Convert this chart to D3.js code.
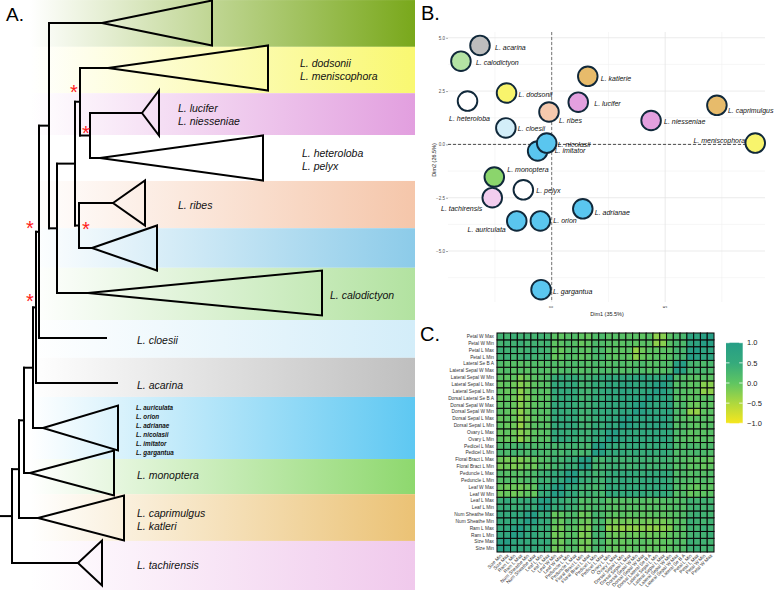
<!DOCTYPE html>
<html>
<head>
<meta charset="utf-8">
<script src="https://cdn.jsdelivr.net/npm/d3@7"></script>
<style>
  body { margin: 0; background: #fff; }
  svg { font-family: "Liberation Sans", Arial, sans-serif; display: block; }
</style>
</head>
<body>
<div id="chart"></div>
<script>
// ---------- panel A : tree ----------
const bandColors = ["#79a81b", "#f9f871", "#e29fdf", "#ffffff", "#f5c6aa", "#8ccbe9", "#b2e2a0",
                    "#d3edf9", "#bfbfbf", "#5ec8f2", "#8ed86e", "#ebc275", "#f0c9ec"];
// band edges in leaf units (leaf 0 = top clade)
const bandEdges = [-0.51, 0.53, 1.56, 2.49, 3.51, 4.56, 5.44, 6.6, 7.44, 8.31, 9.69, 10.47, 11.51, 12.6];

const treeNode   = ["root", "Q", "M", "K", "J", "N0", "N1", "top", "N2", "N3", "N4", "dodsonii", "N5",
                    "lucifer", "heteroloba", "N6", "ribes", "blue", "calodictyon", "cloesii", "acarina",
                    "blue6", "monoptera", "caprimulgus", "tachirensis"];
const treeParent = ["", "root", "Q", "M", "K", "J", "N0", "N1", "N1", "N2", "N3", "N4", "N4",
                    "N5", "N5", "N3", "N6", "N6", "N2", "N0", "J",
                    "K", "M", "Q", "root"];
// node depth (x) and collapsed clade depth (triangle base)
const treeDepth  = [12, 19, 24, 33, 36, 39, 49, 102, 57, 75, 80, 108, 90,
                    142, 100, 79, 113, 92, 88, 106, 117,
                    43, 30, 38, 78];
const cladeBase  = [null, null, null, null, null, null, null, 212, null, null, null, 268, null,
                    159, 263, null, 145, 157, 322, null, null,
                    118, 114, 124, 102];
const cladeLabels = {
  dodsonii: ["L. dodsonii", "L. meniscophora"],
  lucifer: ["L. lucifer", "L. niesseniae"],
  heteroloba: ["L. heteroloba", "L. pelyx"],
  ribes: ["L. ribes"],
  calodictyon: ["L. calodictyon"],
  cloesii: ["L. cloesii"],
  acarina: ["L. acarina"],
  blue6: ["L. auriculata", "L. orion", "L. adrianae", "L. nicolasii", "L. imitator", "L. gargantua"],
  monoptera: ["L. monoptera"],
  caprimulgus: ["L. caprimulgus", "L. katleri"],
  tachirensis: ["L. tachirensis"]
};
const labelDepth = {dodsonii: 300, lucifer: 178, heteroloba: 302, ribes: 178, calodictyon: 330,
  cloesii: 137, acarina: 137, blue6: 136, monoptera: 137, caprimulgus: 137, tachirensis: 137};
const supportNodes = ["N4", "N5", "N6", "N0", "J"];
const supportOffset = [[-6, -14], [-4, -7], [7, -1], [-9, -8], [-6, -10]];

// ---------- panel B : PCA ----------
const pcaNames = ["L. acarina", "L. calodictyon", "L. katlerie", "L. dodsonii", "L. heteroloba", "L. lucifer",
  "L. ribes", "L. caprimulgus", "L. niesseniae", "L. cloesii", "L. imitator", "L. nicolasii",
  "L. meniscophora", "L. monoptera", "L. pelyx", "L. tachirensis", "L. adrianae", "L. auriculata",
  "L. orion", "L. gargantua"];
const pcaDim1 = [-3.16, -4.0, 1.59, -1.99, -3.71, 1.17, -0.12, 7.28, 4.38, -2.02, -0.62, -0.22,
  8.97, -2.53, -1.25, -2.62, 1.37, -1.54, -0.5, -0.47];
const pcaDim2 = [4.64, 3.9, 3.19, 2.41, 2.03, 1.98, 1.52, 1.83, 1.12, 0.77, -0.31, 0.06,
  0.06, -1.53, -2.13, -2.5, -3.02, -3.59, -3.59, -6.81];
const pcaClade = ["acarina", "calodictyon", "caprimulgus", "dodsonii", "heteroloba", "lucifer",
  "ribes", "caprimulgus", "lucifer", "cloesii", "auriculata", "auriculata",
  "dodsonii", "monoptera", "heteroloba", "tachirensis", "auriculata", "auriculata",
  "auriculata", "auriculata"];
const yTicksB = [-5, -2.5, 0, 2.5, 5];
const xTicksB = [0, 5];

// ---------- panel C : correlation heatmap ----------
const traits = ["Size Min", "Size Max", "Ram L Min", "Ram L Max", "Num Sheathe Min", "Num Sheathe Max",
  "Leaf L Min", "Leaf L Max", "Leaf W Min", "Leaf W Max", "Peduncle L Min", "Peduncle L Max",
  "Floral Bract L Min", "Floral Bract L Max", "Pedicel L Min", "Pedicel L Max", "Ovary L Min", "Ovary L Max",
  "Dorsal Sepal L Min", "Dorsal Sepal L Max", "Dorsal Sepal W Min", "Dorsal Sepal W Max",
  "Dorsal Lateral Se B A", "Lateral Sepal L Min", "Lateral Sepal L Max", "Lateral Sepal W Min",
  "Lateral Sepal W Max", "Lateral Se B A", "Petal L Min", "Petal L Max", "Petal W Min", "Petal W Max"];
// lower triangle of the correlation matrix (row i: columns 0..i)
const corrLower = [
  [1],
  [0.88, 1],
  [0.6, 0.62, 1],
  [0.55, 0.58, 0.86, 1],
  [0.5, 0.52, 0.6, 0.62, 1],
  [0.55, 0.5, 0.58, 0.6, 0.88, 1],
  [0.45, 0.48, 0.4, 0.42, 0.5, 0.45, 1],
  [0.42, 0.5, 0.38, 0.45, 0.48, 0.5, 0.9, 1],
  [-0.1, -0.05, -0.12, -0.08, 0.0, -0.05, 0.45, 0.5, 1],
  [-0.05, -0.1, -0.08, -0.12, -0.05, 0.0, 0.5, 0.45, 0.88, 1],
  [0.1, 0.15, 0.05, 0.1, 0.2, 0.15, 0.4, 0.35, 0.55, 0.5, 1],
  [0.15, 0.1, 0.1, 0.05, 0.15, 0.2, 0.35, 0.4, 0.5, 0.55, 0.9, 1],
  [-0.15, -0.1, -0.2, -0.15, -0.05, -0.1, 0.15, 0.1, 0.3, 0.35, 0.45, 0.4, 1],
  [-0.1, -0.15, -0.15, -0.2, -0.1, -0.05, 0.1, 0.15, 0.35, 0.3, 0.4, 0.45, 0.88, 1],
  [0.25, 0.2, 0.3, 0.25, 0.2, 0.3, 0.25, 0.2, 0.3, 0.25, 0.35, 0.3, 0.25, 0.3, 1],
  [0.2, 0.25, 0.25, 0.3, 0.25, 0.2, 0.2, 0.25, 0.25, 0.3, 0.3, 0.35, 0.3, 0.25, 0.9, 1],
  [0.0, -0.05, -0.05, -0.3, -0.1, 0.05, 0.1, 0.05, 0.5, 0.55, 0.5, 0.45, 0.35, 0.4, 0.5, 0.55, 1],
  [-0.05, 0.0, -0.1, -0.25, -0.15, 0.0, 0.05, 0.1, 0.55, 0.5, 0.45, 0.5, 0.4, 0.35, 0.55, 0.5, 0.88, 1],
  [0.0, -0.05, -0.1, -0.35, -0.1, 0.05, 0.1, 0.05, 0.5, 0.55, 0.55, 0.5, 0.35, 0.3, 0.5, 0.45, 0.65, 0.6, 1],
  [-0.05, 0.0, -0.05, -0.3, -0.15, 0.0, 0.05, 0.1, 0.55, 0.5, 0.5, 0.55, 0.3, 0.35, 0.45, 0.5, 0.6, 0.65, 0.9, 1],
  [0.05, 0.0, -0.1, -0.3, -0.1, 0.05, 0.1, 0.1, 0.5, 0.5, 0.45, 0.5, 0.35, 0.35, 0.5, 0.5, 0.6, 0.55, 0.7, 0.65, 1],
  [0.0, 0.05, -0.05, -0.25, -0.1, 0.0, 0.05, 0.1, 0.55, 0.5, 0.5, 0.45, 0.4, 0.35, 0.45, 0.5, 0.55, 0.6, 0.65, 0.7, 0.88, 1],
  [-0.05, 0.0, -0.1, -0.3, -0.15, 0.0, 0.05, 0.05, 0.45, 0.5, 0.5, 0.5, 0.3, 0.35, 0.5, 0.45, 0.6, 0.6, 0.7, 0.7, 0.75, 0.7, 1],
  [0.0, -0.05, -0.05, -0.3, -0.1, 0.05, 0.1, 0.05, 0.5, 0.55, 0.55, 0.5, 0.35, 0.3, 0.45, 0.5, 0.6, 0.65, 0.75, 0.7, 0.65, 0.6, 0.7, 1],
  [-0.05, 0.0, -0.1, -0.25, -0.15, 0.0, 0.05, 0.1, 0.55, 0.5, 0.5, 0.55, 0.3, 0.35, 0.5, 0.45, 0.65, 0.6, 0.7, 0.75, 0.6, 0.65, 0.7, 0.9, 1],
  [0.05, 0.0, 0.0, -0.2, -0.05, 0.05, 0.1, 0.15, 0.45, 0.5, 0.45, 0.5, 0.35, 0.3, 0.45, 0.5, 0.55, 0.6, 0.6, 0.6, 0.7, 0.75, 0.65, 0.6, 0.6, 1],
  [0.1, 0.15, 0.05, 0.1, 0.05, 0.1, 0.15, 0.1, 0.1, 0.15, 0.2, 0.15, 0.1, 0.15, 0.15, 0.2, 0.15, 0.2, 0.1, 0.15, 0.2, 0.15, 0.1, 0.15, 0.1, 0.2, 1],
  [0.15, 0.1, 0.1, 0.05, 0.1, 0.15, 0.1, 0.15, 0.15, 0.1, 0.15, 0.2, 0.15, 0.1, 0.2, 0.15, 0.1, 0.15, 0.15, 0.1, 0.15, 0.2, 0.1, 0.1, 0.15, 0.15, 0.85, 1],
  [0.35, 0.4, 0.3, 0.35, 0.4, 0.35, 0.3, 0.35, -0.05, 0.0, 0.15, 0.1, 0.0, 0.05, 0.2, 0.25, 0.05, 0.0, 0.05, 0.0, -0.3, -0.05, 0.0, 0.05, 0.0, 0.1, 0.25, 0.3, 1],
  [0.4, 0.35, 0.35, 0.3, 0.35, 0.4, 0.35, 0.3, 0.0, -0.05, 0.1, 0.15, 0.05, 0.0, 0.25, 0.2, 0.0, 0.05, 0.0, 0.05, -0.35, -0.1, 0.05, 0.0, 0.05, 0.05, 0.3, 0.25, 0.9, 1],
  [0.3, 0.35, 0.35, 0.4, 0.3, 0.35, 0.3, 0.35, 0.0, 0.05, 0.15, 0.1, -0.05, 0.0, 0.2, 0.15, 0.1, 0.05, 0.05, 0.1, 0.0, 0.05, 0.05, -0.3, -0.25, 0.1, 0.25, 0.2, 0.7, 0.75, 1],
  [0.35, 0.3, 0.4, 0.35, 0.35, 0.3, 0.35, 0.3, 0.05, 0.0, 0.1, 0.15, 0.0, -0.05, 0.15, 0.2, 0.05, 0.1, 0.1, 0.05, 0.05, 0.0, 0.1, -0.3, -0.25, 0.05, 0.2, 0.25, 0.75, 0.7, 0.9, 1]
];
const legendTicks = [1, 0.5, 0, -0.5, -1];

// ======================================================
const svg = d3.select("#chart").append("svg")
    .attr("width", 778)
    .attr("height", 592);
const defs = svg.append("defs");

// ---------- A ----------
const xA = d3.scaleLinear().domain([0, 330]).range([0, 330]);
const yA = d3.scaleLinear().domain([0, 12]).range([23, 563]);

bandColors.forEach((c, i) => {
  const g = defs.append("linearGradient")
      .attr("id", "band" + i)
      .attr("gradientUnits", "userSpaceOnUse")
      .attr("x1", 30).attr("x2", 415).attr("y1", 0).attr("y2", 0);
  g.append("stop").attr("offset", 0).attr("stop-color", "#ffffff");
  g.append("stop").attr("offset", 1).attr("stop-color", c);
});

svg.append("g").selectAll("rect")
    .data(bandColors)
    .enter().append("rect")
    .attr("x", 0)
    .attr("width", 415)
    .attr("y", (d, i) => yA(bandEdges[i]))
    .attr("height", (d, i) => yA(bandEdges[i + 1]) - yA(bandEdges[i]))
    .attr("fill", (d, i) => `url(#band${i})`);

const treeRows = treeNode.map((id, i) => ({id, parent: treeParent[i], depth: treeDepth[i], base: cladeBase[i]}));
const root = d3.stratify().id(d => d.id).parentId(d => d.parent)(treeRows);
root.leaves().forEach((l, i) => { l.yy = yA(i); });
root.eachAfter(n => {
  if (n.children) n.yy = (n.children[0].yy + n.children[n.children.length - 1].yy) / 2;
});

const treeG = svg.append("g")
    .attr("fill", "none")
    .attr("stroke", "#000")
    .attr("stroke-width", 2)
    .attr("stroke-linecap", "square");

// root stub
treeG.append("line")
    .attr("x1", xA(0)).attr("x2", xA(root.data.depth))
    .attr("y1", root.yy).attr("y2", root.yy);

root.descendants().forEach(n => {
  if (n.children) {
    treeG.append("line")
        .attr("x1", xA(n.data.depth)).attr("x2", xA(n.data.depth))
        .attr("y1", n.children[0].yy).attr("y2", n.children[n.children.length - 1].yy);
  }
  if (n.parent) {
    treeG.append("line")
        .attr("x1", xA(n.parent.data.depth)).attr("x2", xA(n.data.depth))
        .attr("y1", n.yy).attr("y2", n.yy);
  }
  if (n.data.base != null) {
    const half = (yA(1) - yA(0)) / 2;
    treeG.append("path")
        .attr("stroke-linejoin", "miter")
        .attr("d", `M${xA(n.data.depth)},${n.yy}L${xA(n.data.base)},${n.yy - half}L${xA(n.data.base)},${n.yy + half}Z`);
  }
});

// clade labels
root.leaves().forEach(l => {
  const lines = cladeLabels[l.id];
  if (!lines) return;
  const small = lines.length > 2;
  const fs = small ? 6.3 : 10.5;
  const step = small ? 9 : 13.4;
  const c = l.yy + 2;
  lines.forEach((t, k) => {
    svg.append("text")
        .attr("x", xA(labelDepth[l.id]))
        .attr("y", c + (k - (lines.length - 1) / 2) * step + fs * 0.35)
        .attr("font-size", fs)
        .attr("font-style", "italic")
        .attr("font-weight", small ? "bold" : "normal")
        .attr("fill", "#111")
        .text(t);
  });
});

// support asterisks
supportNodes.forEach((id, i) => {
  const n = root.find(d => d.id === id);
  svg.append("text")
      .attr("x", xA(n.data.depth) + supportOffset[i][0])
      .attr("y", n.yy + supportOffset[i][1] + 11)
      .attr("text-anchor", "middle")
      .attr("font-size", 20)
      .attr("fill", "#ff1a1a")
      .text("*");
});

svg.append("text").attr("x", 6).attr("y", 21).attr("font-size", 19).text("A.");

// ---------- B ----------
const xB = d3.scaleLinear().domain([-4.57, 9.4]).range([448, 765]);
const yB = d3.scaleLinear().domain([-7.39, 5.27]).range([302, 32]);
const pointColor = d3.scaleOrdinal()
    .domain(["acarina", "calodictyon", "caprimulgus", "dodsonii", "heteroloba", "lucifer", "ribes",
             "cloesii", "auriculata", "monoptera", "tachirensis"])
    .range(["#bdbdbd", "#b4e3a4", "#e7bb6b", "#f8f46c", "#ffffff", "#e3a0df", "#f5c9ad",
            "#d3eef9", "#5ac6ef", "#8bd56c", "#f2cdee"]);
// label placement (dx, dy, anchor) like ggrepel output
const labelNudge = [[15, 2, "start"], [15, 1, "start"], [13, 2, "start"], [12, 2, "start"], [2, 17.6, "middle"],
  [16, 1, "start"], [10, 9, "start"], [11, 5, "start"], [13, 1, "start"], [12, 1, "start"],
  [17, 0, "start"], [11, 1, "start"], [-10, -3, "end"], [13, -7, "start"], [13, 1, "start"],
  [-10, 11, "end"], [12, 4, "start"], [-11, 9, "end"], [13, 0, "start"], [12, 2, "start"]];

const gridB = svg.append("g");
const minorY = [-6.25, -3.75, -1.25, 1.25, 3.75];
const minorX = [-2.5, 2.5, 7.5];
gridB.selectAll(".my").data(minorY).enter().append("line")
    .attr("x1", 448).attr("x2", 765).attr("y1", d => yB(d)).attr("y2", d => yB(d))
    .attr("stroke", "#f0f0f0").attr("stroke-width", 0.6);
gridB.selectAll(".mx").data(minorX).enter().append("line")
    .attr("y1", 32).attr("y2", 302).attr("x1", d => xB(d)).attr("x2", d => xB(d))
    .attr("stroke", "#f0f0f0").attr("stroke-width", 0.6);
gridB.selectAll(".gy").data(yTicksB).enter().append("line")
    .attr("x1", 448).attr("x2", 765).attr("y1", d => yB(d)).attr("y2", d => yB(d))
    .attr("stroke", "#e6e6e6").attr("stroke-width", 0.8);
gridB.selectAll(".gx").data(xTicksB).enter().append("line")
    .attr("y1", 32).attr("y2", 302).attr("x1", d => xB(d)).attr("x2", d => xB(d))
    .attr("stroke", "#e6e6e6").attr("stroke-width", 0.8);

svg.append("line")
    .attr("x1", 448).attr("x2", 765).attr("y1", yB(0)).attr("y2", yB(0))
    .attr("stroke", "#222").attr("stroke-width", 0.8).attr("stroke-dasharray", "3,2");
svg.append("line")
    .attr("y1", 32).attr("y2", 302).attr("x1", xB(0)).attr("x2", xB(0))
    .attr("stroke", "#777").attr("stroke-width", 1).attr("stroke-dasharray", "3,2");

const axisYB = svg.append("g").attr("transform", "translate(448,0)")
    .call(d3.axisLeft(yB).tickValues(yTicksB).tickSize(2).tickFormat(d3.format(".1f")));
axisYB.select(".domain").remove();
axisYB.selectAll("line").attr("stroke", "#555").attr("stroke-width", 0.5);
axisYB.selectAll("text").attr("font-size", 4.5).attr("fill", "#4d4d4d").attr("x", -3)
    .attr("font-family", "Liberation Sans, Arial, sans-serif")
    .text(d => d3.format(".1f")(d).replace("-", "\u2212"));

svg.append("g").selectAll("text").data(xTicksB).enter().append("text")
    .attr("transform", d => `translate(${xB(d) + 1.5},307) rotate(-90)`)
    .attr("text-anchor", "middle")
    .attr("font-size", 4.5).attr("fill", "#4d4d4d")
    .text(d => d);

svg.append("text").attr("x", 607).attr("y", 316).attr("text-anchor", "middle")
    .attr("font-size", 5.5).attr("fill", "#222").text("Dim1 (35.5%)");
svg.append("text").attr("transform", "translate(436,160) rotate(-90)").attr("text-anchor", "middle")
    .attr("font-size", 5.5).attr("fill", "#222").text("Dim2 (26.5%)");

const pts = pcaNames.map((n, i) => ({name: n, x: pcaDim1[i], y: pcaDim2[i], clade: pcaClade[i], nudge: labelNudge[i]}));
svg.append("g").selectAll("circle").data(pts).enter().append("circle")
    .attr("cx", d => xB(d.x)).attr("cy", d => yB(d.y)).attr("r", 9.8)
    .attr("fill", d => pointColor(d.clade))
    .attr("stroke", "#10283a").attr("stroke-width", 1.9);
svg.append("g").selectAll("text").data(pts).enter().append("text")
    .attr("x", d => xB(d.x) + d.nudge[0])
    .attr("y", d => yB(d.y) + d.nudge[1] + 2.4)
    .attr("text-anchor", d => d.nudge[2])
    .attr("font-size", 7)
    .attr("font-style", "italic")
    .attr("fill", "#111")
    .text(d => d.name);

svg.append("text").attr("x", 421).attr("y", 20).attr("font-size", 20).text("B.");

// ---------- C ----------
const corr = traits.map((a, i) => traits.map((b, j) => i >= j ? corrLower[i][j] : corrLower[j][i]));
const cells = [];
traits.forEach((a, i) => traits.forEach((b, j) => cells.push({row: a, col: b, v: corr[i][j]})));

const xC = d3.scaleBand().domain(traits).range([497, 714]);
const yC = d3.scaleBand().domain(traits.slice().reverse()).range([333, 552]);
const colorC = d3.scaleLinear()
    .domain([-1, -0.5, 0, 0.5, 1])
    .range(["#f6e61e", "#aed83e", "#5fc562", "#35aa7c", "#269e86"]);

svg.append("g").selectAll("rect").data(cells).enter().append("rect")
    .attr("x", d => xC(d.col)).attr("y", d => yC(d.row))
    .attr("width", xC.bandwidth()).attr("height", yC.bandwidth())
    .attr("fill", d => colorC(d.v))
    .attr("stroke", "#0a0a0a").attr("stroke-width", 1.05);

svg.append("g").selectAll("text").data(traits).enter().append("text")
    .attr("x", 494).attr("y", d => yC(d) + yC.bandwidth() / 2 + 1.7)
    .attr("text-anchor", "end").attr("font-size", 4.8).attr("fill", "#333")
    .text(d => d);
svg.append("g").selectAll("text").data(traits).enter().append("text")
    .attr("transform", d => `translate(${xC(d) + xC.bandwidth() / 2 + 2},556) rotate(-45)`)
    .attr("text-anchor", "end").attr("font-size", 4.8).attr("fill", "#333")
    .text(d => d);

// legend
const yL = d3.scaleLinear().domain([-1, 1]).range([423.3, 342.7]);
const lg = defs.append("linearGradient").attr("id", "legendGrad")
    .attr("x1", 0).attr("x2", 0).attr("y1", 1).attr("y2", 0);
[-1, -0.5, 0, 0.5, 1].forEach((v, i) => lg.append("stop").attr("offset", i / 4).attr("stop-color", colorC(v)));
svg.append("rect").attr("x", 726).attr("y", yL(1)).attr("width", 16.7).attr("height", yL(-1) - yL(1))
    .attr("fill", "url(#legendGrad)");
const lt = svg.append("g").selectAll("g").data(legendTicks).enter().append("g");
lt.append("line").attr("x1", 726).attr("x2", 729.5).attr("y1", d => yL(d)).attr("y2", d => yL(d))
    .attr("stroke", "#fff").attr("stroke-width", 0.8);
lt.append("line").attr("x1", 739.2).attr("x2", 742.7).attr("y1", d => yL(d)).attr("y2", d => yL(d))
    .attr("stroke", "#fff").attr("stroke-width", 0.8);
lt.append("text").attr("x", 747).attr("y", d => yL(d) + 2.7)
    .attr("font-size", 7.5).attr("fill", "#222")
    .text(d => d3.format(".1f")(d).replace("-", "\u2212"));

svg.append("text").attr("x", 420).attr("y", 341).attr("font-size", 20).text("C.");
</script>
</body>
</html>
